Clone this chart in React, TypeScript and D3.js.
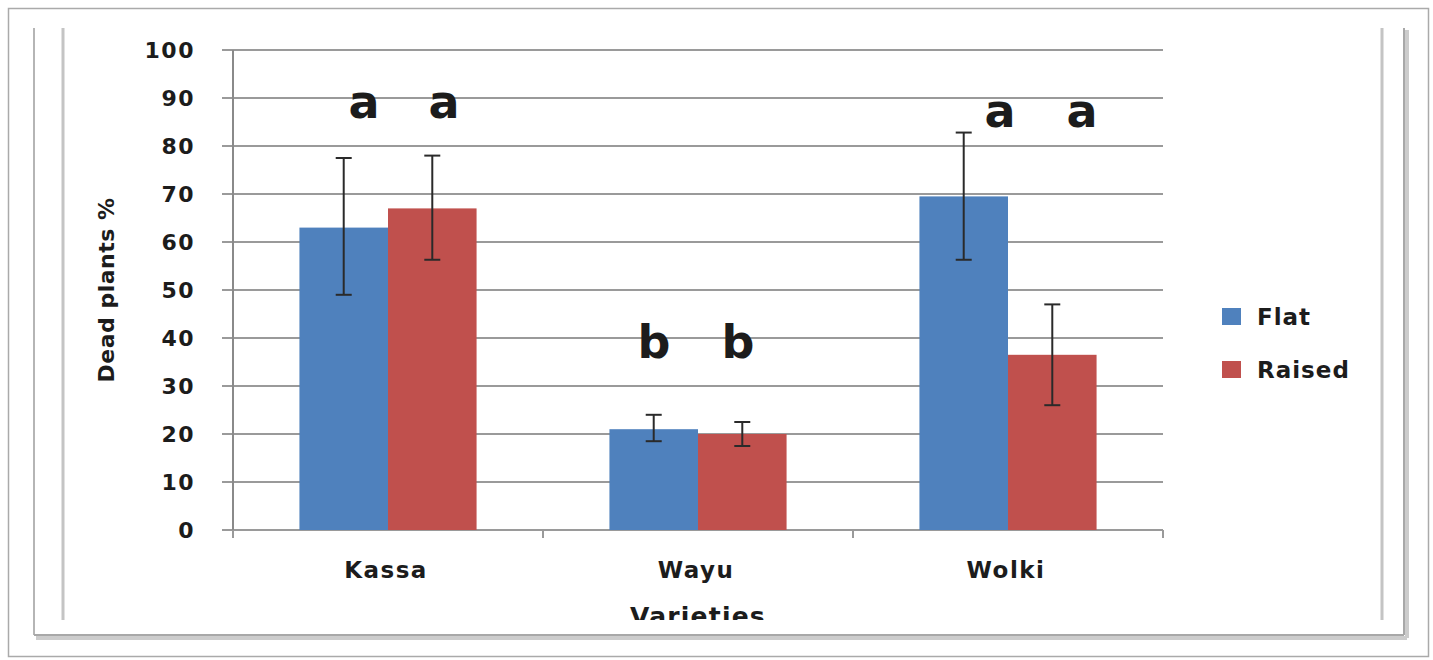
import React from "react";
import * as d3 from "d3";

const categories = ["Kassa", "Wayu", "Wolki"];
const seriesNames = ["Flat", "Raised"];
const flatValues = [63, 21, 69.5];
const raisedValues = [67, 20, 36.5];
const flatErrLow = [49, 18.5, 56.3];
const flatErrHigh = [77.5, 24, 82.8];
const raisedErrLow = [56.3, 17.5, 26];
const raisedErrHigh = [78, 22.5, 47];
const flatLetters = ["a", "b", "a"];
const raisedLetters = ["a", "b", "a"];
const yTicks = [0, 10, 20, 30, 40, 50, 60, 70, 80, 90, 100];
const colors = ["#4F81BD", "#C0504D"];

// annotation placement (value level of letter baselines, offsets from category centre)
const letterLevel = [85.8, 35.8, 84];
const flatLetterDx = [-24, -44, -8];
const raisedLetterDx = [56, 40, 74];

export default function App() {
  const W = 1433, H = 660;
  const left = 233, right = 1163, top = 50, bottom = 530;
  const x = d3.scaleBand<string>().domain(categories).range([left, right]);
  const y = d3.scaleLinear().domain([0, 100]).range([bottom, top]);
  const bw = x.bandwidth() / 3.5;
  const inner = d3.scaleBand<string>().domain(seriesNames).range([0, 2 * bw]);
  const font = "'DejaVu Sans', Verdana, sans-serif";
  const series = [
    { name: "Flat", values: flatValues, lo: flatErrLow, hi: flatErrHigh },
    { name: "Raised", values: raisedValues, lo: raisedErrLow, hi: raisedErrHigh },
  ];
  const textColor = "#1c1c1c";
  const cxOf = (c: string) => (x(c) as number) + x.bandwidth() / 2;
  return (
    <svg width={W} height={H} style={{ position: "absolute", left: 0, top: 0, background: "#fff" }} fontFamily={font}>
      <defs>
        <clipPath id="clipTitle">
          <rect x={0} y={0} width={W} height={620} />
        </clipPath>
      </defs>
      {/* outer border */}
      <rect x={8.5} y={8.5} width={1420} height={648} fill="none" stroke="#aaa" strokeWidth={1.5} />
      {/* inner frame and shadows */}
      <line x1={36} y1={638} x2={1407} y2={638} stroke="#ccc" strokeWidth={4} />
      <line x1={1407} y1={30} x2={1407} y2={638} stroke="#ccc" strokeWidth={4} />
      <line x1={34} y1={28} x2={34} y2={635} stroke="#b5b5b5" strokeWidth={2} />
      <line x1={34} y1={635} x2={1404} y2={635} stroke="#a8a8a8" strokeWidth={2} />
      <line x1={1404} y1={28} x2={1404} y2={635} stroke="#a8a8a8" strokeWidth={2} />
      <line x1={63} y1={28} x2={63} y2={620} stroke="#c4c4c4" strokeWidth={3} />
      <line x1={1382} y1={28} x2={1382} y2={620} stroke="#c4c4c4" strokeWidth={3} />

      {/* gridlines and y tick labels */}
      {yTicks.map((t) => (
        <g key={t}>
          <line x1={222} x2={right} y1={y(t)} y2={y(t)} stroke="#9a9a9a" strokeWidth={2} />
          <text x={195} y={y(t)} dy="0.36em" textAnchor="end" fontSize={22} fontWeight="bold" letterSpacing={1.5} fill={textColor}>
            {t}
          </text>
        </g>
      ))}
      {/* y axis */}
      <line x1={left} x2={left} y1={top} y2={bottom + 8} stroke="#8a8a8a" strokeWidth={2} />
      {/* x axis ticks */}
      {[...categories.map((c) => x(c) as number), right].map((v, i) => (
        <line key={i} x1={v} x2={v} y1={bottom} y2={bottom + 8} stroke="#9a9a9a" strokeWidth={2} />
      ))}

      {/* bars */}
      {series.map((s, si) =>
        categories.map((c, ci) => {
          const x0 = cxOf(c) - bw + (inner(s.name) as number);
          return (
            <rect key={s.name + c} x={x0} y={y(s.values[ci])} width={bw} height={y(0) - y(s.values[ci])} fill={colors[si]} />
          );
        })
      )}
      {/* error bars */}
      {series.map((s) =>
        categories.map((c, ci) => {
          const cx = cxOf(c) - bw + (inner(s.name) as number) + bw / 2;
          return (
            <g key={"e" + s.name + c} stroke="#2a2a2a" strokeWidth={2}>
              <line x1={cx} x2={cx} y1={y(s.hi[ci])} y2={y(s.lo[ci])} />
              <line x1={cx - 8} x2={cx + 8} y1={y(s.hi[ci])} y2={y(s.hi[ci])} />
              <line x1={cx - 8} x2={cx + 8} y1={y(s.lo[ci])} y2={y(s.lo[ci])} />
            </g>
          );
        })
      )}
      {/* significance letters */}
      {categories.map((c, ci) => (
        <g key={"l" + c}>
          <text x={cxOf(c) + flatLetterDx[ci]} y={y(letterLevel[ci])} textAnchor="middle" fontSize={46} fontWeight="bold" fill={textColor}>
            {flatLetters[ci]}
          </text>
          <text x={cxOf(c) + raisedLetterDx[ci]} y={y(letterLevel[ci])} textAnchor="middle" fontSize={46} fontWeight="bold" fill={textColor}>
            {raisedLetters[ci]}
          </text>
        </g>
      ))}
      {/* x labels */}
      {categories.map((c) => (
        <text key={"x" + c} x={cxOf(c) - 2} y={578} textAnchor="middle" fontSize={23} fontWeight="bold" letterSpacing={1.5} fill={textColor}>
          {c}
        </text>
      ))}
      <text x={698} y={625} textAnchor="middle" fontSize={25} fontWeight="bold" letterSpacing={1.2} fill={textColor} clipPath="url(#clipTitle)">
        Varieties
      </text>
      <text transform="translate(114,290) rotate(-90)" textAnchor="middle" fontSize={22} fontWeight="bold" letterSpacing={0.5} fill={textColor}>
        Dead plants %
      </text>
      {/* legend */}
      {seriesNames.map((n, i) => (
        <g key={"lg" + n} transform={`translate(1222, ${308 + i * 53})`}>
          <rect x={0} y={0} width={19} height={17} fill={colors[i]} />
          <text x={35} y={9} dy="0.36em" fontSize={23} fontWeight="bold" letterSpacing={1} fill={textColor}>
            {n}
          </text>
        </g>
      ))}
    </svg>
  );
}
